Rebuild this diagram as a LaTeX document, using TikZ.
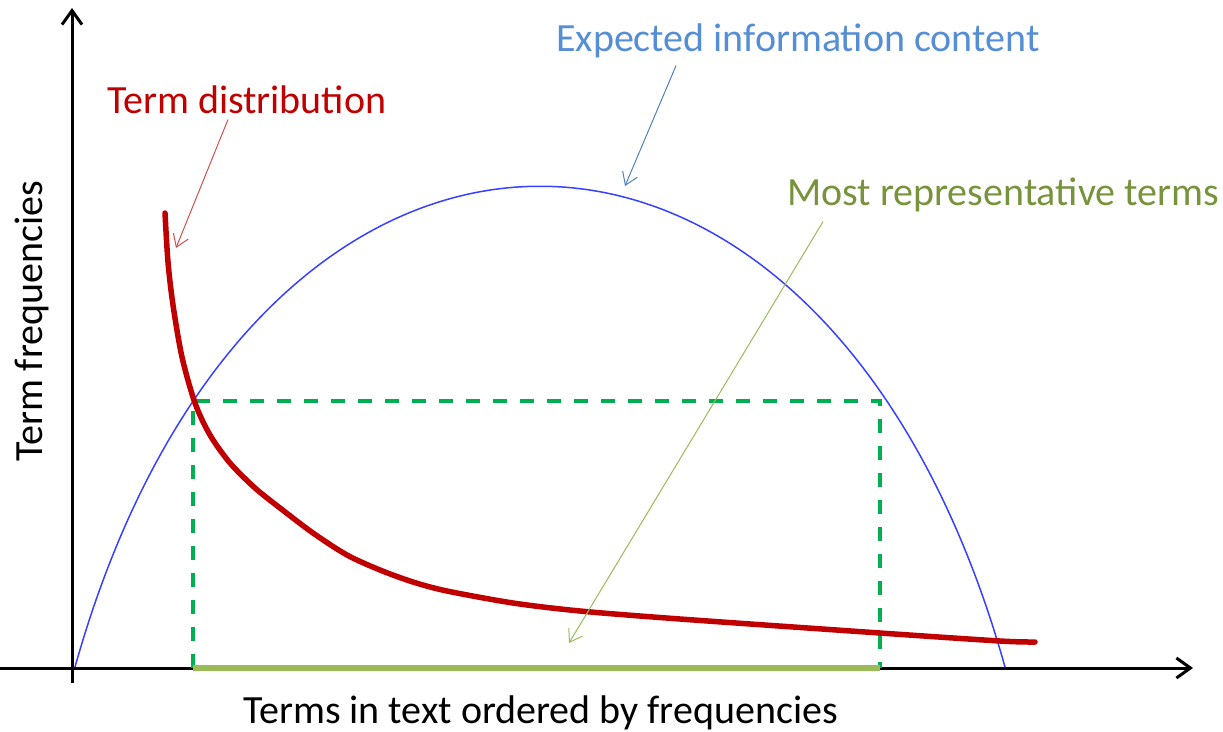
\documentclass[tikz,border=0pt]{standalone}
\usepackage{fontspec}
\setmainfont{Carlito}
\usetikzlibrary{arrows.meta}
\definecolor{termred}{HTML}{C00000}
\definecolor{pointerred}{HTML}{D05050}
\definecolor{curveblue}{RGB}{55,65,255}
\definecolor{labelblue}{HTML}{558ED5}
\definecolor{pointerblue}{HTML}{4F81BD}
\definecolor{labelgreen}{HTML}{77933C}
\definecolor{olive}{HTML}{9BBB59}
\definecolor{dashgreen}{HTML}{00B050}
\tikzset{
  axis/.style={line width=3pt, black, -{Straight Barb[length=14pt,width=20pt,line width=3pt]}},
  pointer/.style={line width=1pt, -{Straight Barb[length=12pt,width=16pt,line width=1pt]}},
  label/.style={inner sep=0pt, font=\fontsize{40}{48}\selectfont},
  guide/.style={dashgreen, line width=3.5pt, dash pattern=on 14pt off 13pt},
}
\begin{document}
\begin{tikzpicture}[x=1pt, y=-1pt]
\useasboundingbox (0,0) rectangle (1223,731);

% axes
\coordinate (ybot) at (72,683);
\coordinate (ytop) at (72,8);
\coordinate (xleft) at (0,668);
\coordinate (xright) at (1193,668);
\draw[axis] (ybot) -- (ytop);
\draw[axis] (xleft) -- (xright);

% expected information content
\coordinate (infoL) at (75,667);
\coordinate (infoR) at (1005,667);
\draw[curveblue, line width=1.5pt]
  (infoL) .. controls (255,26) and (825,26) .. (infoR);

% representative range
\coordinate (c1) at (193,401);
\coordinate (c2) at (880,401);
\coordinate (b1) at (193,668);
\coordinate (b2) at (880,668);
\draw[guide] (b1) -- (c1) -- (c2) -- (b2);
\draw[olive, line width=6pt] (b1) -- (b2);

% term distribution
\draw[termred, line width=5.5pt, line cap=round]
  plot[smooth, tension=0.5] coordinates {
    (165,213) (168,262) (173,305) (182,357) (195,403) (210,435)
    (230,463) (255,488) (280,508) (313,533) (347,555) (380,570)
    (413,582) (447,591) (513,603) (580,611) (680,619) (880,633)
    (1000,641) (1035,642)};

% labels
\node[label, termred, anchor=base west] (tdist) at (107,113) {Term distribution};
\node[label, labelblue, anchor=base west] (info) at (556,51) {Expected information content};
\node[label, labelgreen, anchor=base west] (most) at (787,205) {Most representative terms};
\node[label, black, anchor=base west, rotate=90] (yl) at (42,462) {Term frequencies};
\node[label, black, anchor=base west] (xl) at (243,723) {Terms in text ordered by frequencies};

% pointers
\coordinate (tdistTip) at (176,248);
\coordinate (infoTip) at (625,186);
\coordinate (mostTip) at (569,643);
\draw[pointer, pointerred] (tdist.south west) ++(121,6) -- (tdistTip);
\draw[pointer, pointerblue] (info.south west) ++(120,8) -- (infoTip);
\draw[pointer, olive] (most.south west) ++(36,10) -- (mostTip);
\end{tikzpicture}
\end{document}
